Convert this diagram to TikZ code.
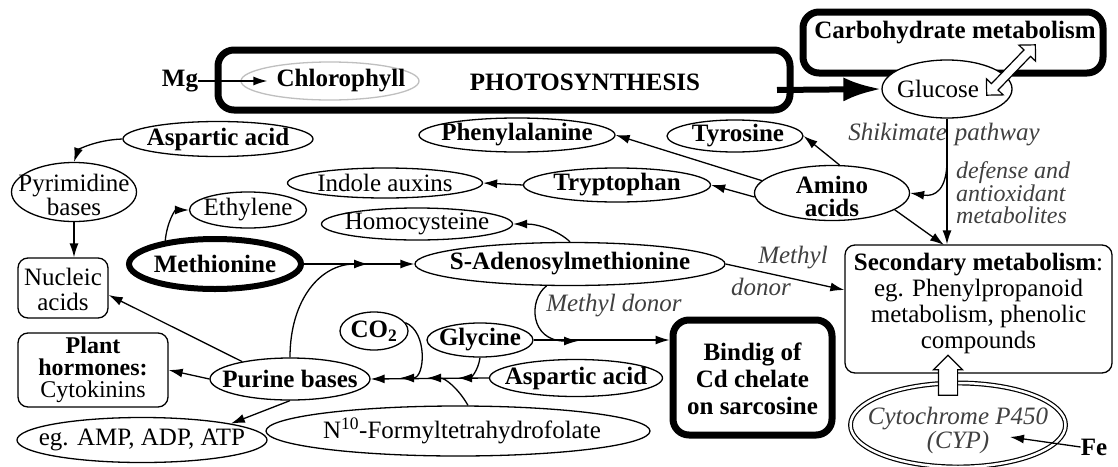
\documentclass[tikz,border=0pt]{standalone}
\usepackage{fontspec}
\setmainfont{Liberation Serif}
\usetikzlibrary{shapes.geometric,shapes.arrows,arrows.meta}
\tikzset{
 T/.style={font=\fontsize{25}{25}\selectfont, inner sep=0pt, align=center},
 TB/.style={T, font=\fontsize{25}{25}\selectfont\bfseries},
 TI/.style={T, font=\fontsize{25}{25}\selectfont\itshape, text=black!75},
 ell/.style={ellipse, draw, fill=white, line width=1.3pt, inner sep=0pt},
 rbox/.style={draw, fill=white, rounded corners=10pt, line width=1.3pt, inner sep=0pt},
 hbox/.style={draw, fill=white, rounded corners=16pt, line width=7pt, inner sep=0pt},
 arr/.style={-{Latex[length=14pt,width=9pt]}, line width=1.3pt},
}
\begin{document}
\begin{tikzpicture}[x=1pt,y=-1pt]
\useasboundingbox (0,0) rectangle (1118,466);
% big boxes
\node[hbox, minimum width=572pt, minimum height=60pt] (ps) at (504,80) {};
\node[TB] (ps-t) at (585,82) {PHOTOSYNTHESIS};
\node[hbox, minimum width=300pt, minimum height=61pt] (carb) at (953,42.5) {};
\node[TB] (carb-t) at (955,33) {Carbohydrate metabolism};
\node[hbox, minimum width=159pt, minimum height=115pt] (bind) at (752.5,377.5) {};
\node[TB, font=\fontsize{25}{27}\selectfont\bfseries] (bind-t) at (752.5,379) {Bindig of\\Cd chelate\\on sarcosine};
\node[rbox, minimum width=267pt, minimum height=128pt] (sec) at (978.5,309) {};
\node[T, font=\fontsize{25}{26}\selectfont] (sec-t) at (978.5,303) {\textbf{Secondary metabolism}:\\eg. Phenylpropanoid\\metabolism, phenolic\\compounds};
\node[rbox, minimum width=90pt, minimum height=60pt] (nuc) at (63,288) {};
\node[T] (nuc-t) at (63,289) {Nucleic\\acids};
\node[rbox, minimum width=150pt, minimum height=74pt] (ph) at (93,370) {};
\node[T, font=\fontsize{24}{22}\selectfont] (ph-t) at (93,370) {\textbf{Plant}\\\textbf{hormones:}\\Cytokinins};
% ellipses
\node[ell, draw=black!25, minimum width=178pt, minimum height=38pt] (chl) at (330,81) {};
\node[TB] (chl-t) at (341,81) {Chlorophyll};
\node[TB] (mg) at (180,81) {Mg};
\node[ell, minimum width=130pt, minimum height=58pt] (glu) at (947,89) {};
\node[T] (glu-t) at (938,89) {Glucose};
\node[double arrow, draw, fill=white, line width=1.2pt, minimum height=70pt, minimum width=22pt, inner sep=4pt, double arrow head extend=7pt, rotate=46] (dbl) at (1011,70) {};
\node[ell, minimum width=136pt, minimum height=32pt] (tyr) at (735,136) {};
\node[TB] (tyr-t) at (738,136) {Tyrosine};
\node[ell, minimum width=196pt, minimum height=34pt] (phe) at (517,135) {};
\node[TB] (phe-t) at (517,135) {Phenylalanine};
\node[ell, minimum width=190pt, minimum height=35pt] (asp1) at (218,139) {};
\node[TB] (asp1-t) at (218,139) {Aspartic acid};
\node[ell, minimum width=125pt, minimum height=59pt] (pyr) at (74,192) {};
\node[T, font=\fontsize{25}{22}\selectfont] (pyr-t) at (74,195) {Pyrimidine\\bases};
\node[ell, minimum width=195pt, minimum height=30pt] (ind) at (385,183) {};
\node[T] (ind-t) at (385,183) {Indole auxins};
\node[ell, minimum width=187pt, minimum height=34pt] (try) at (617,185) {};
\node[TB] (try-t) at (617,185) {Tryptophan};
\node[ell, minimum width=155pt, minimum height=55pt] (ami) at (832,193) {};
\node[TB, font=\fontsize{25}{23}\selectfont\bfseries] (ami-t) at (832,196) {Amino\\acids};
\node[ell, minimum width=117pt, minimum height=36pt] (eth) at (248,210) {};
\node[T] (eth-t) at (248,210) {Ethylene};
\node[ell, minimum width=191pt, minimum height=32pt] (hom) at (417,224) {};
\node[T] (hom-t) at (417,224) {Homocysteine};
\node[ell, line width=6pt, minimum width=172pt, minimum height=50pt] (met) at (215,264) {};
\node[TB] (met-t) at (215,264) {Methionine};
\node[ell, minimum width=310pt, minimum height=43pt] (sam) at (570,264) {};
\node[TB] (sam-t) at (570,264) {S-Adenosylmethionine};
\node[ell, minimum width=68pt, minimum height=38pt] (co2) at (374,331) {};
\node[TB] (co2-t) at (374,331) {CO\textsubscript{2}};
\node[ell, minimum width=106pt, minimum height=34pt] (gly) at (480,340) {};
\node[TB] (gly-t) at (480,340) {Glycine};
\node[ell, minimum width=160pt, minimum height=42pt] (pur) at (290,379) {};
\node[TB] (pur-t) at (290,379) {Purine bases};
\node[ell, minimum width=173pt, minimum height=37pt] (asp2) at (576,378) {};
\node[TB] (asp2-t) at (576,378) {Aspartic acid};
\node[ell, minimum width=250pt, minimum height=45pt] (amp) at (142,440) {};
\node[T] (amp-t) at (142,440) {eg. AMP, ADP, ATP};
\node[ell, minimum width=384pt, minimum height=50pt] (n10) at (458,431) {};
\node[T] (n10-t) at (462,431) {N\textsuperscript{10}-Formyltetrahydrofolate};
\node[ell, double, double distance=2.5pt, line width=1.2pt, minimum width=215pt, minimum height=84pt] (cyp) at (958,425) {};
\node[TI, font=\fontsize{25}{24}\selectfont\itshape] (cyp-t) at (958,430) {Cytochrome P450\\(CYP)};
\node[TB] (fe) at (1094,447) {Fe};
\node[single arrow, draw, fill=white, line width=1.2pt, minimum height=40pt, minimum width=28pt, inner sep=9pt, single arrow head extend=5pt, rotate=90] (up) at (948,380) {};
% labels
\node[TI] (shik) at (944,135) {Shikimate\hspace{8pt}pathway};
\node[TI, align=left, anchor=west, font=\fontsize{24}{22.5}\selectfont\itshape] (def) at (956,193) {defense and\\antioxidant\\metabolites};
\node[TI] (md1) at (793,258) {Methyl};
\node[TI] (md2) at (761,287) {donor};
\node[TI] (md3) at (614,306) {Methyl donor};
% coordinates
\coordinate (psout) at (777,90);
\coordinate (shk) at (947,160);
\coordinate (secin) at (944,245);
\coordinate (mj) at (368,264);
\coordinate (jc) at (400,378);
\coordinate (jn) at (427,378);
\coordinate (jg) at (458,378);
\coordinate (jm) at (578,341);
\coordinate (cypin) at (1010,437);
% connectors
\draw[arr] (mg.east) -- ([xshift=27pt]chl.west);
\draw[line width=6pt, -{Latex[length=38pt,width=24pt]}] (psout) -- (glu.west);
\draw[arr] (glu.south) -- (glu.south |- sec.north);
\draw[arr] (shk) .. controls (947,190) and (935,197) .. (ami.east);
\draw[arr] (ami.-15) -- (secin);
\draw[arr] (ami.75) -- (tyr.east);
\draw[arr] (ami.170) -- (phe.east);
\draw[arr] (ami.183) -- (try.east);
\draw[arr] (try.west) -- (ind.east);
\draw[arr] (sam.north) .. controls (560,232) and (540,224) .. (hom.east);
\draw[arr] (met.east) -- (sam.west);
\draw[arr] (pur.north) .. controls (290,300) and (320,264) .. (mj);
\draw[arr] (met.155) .. controls (167,222) and (175,210) .. (eth.west);
\draw[arr] (asp1.west) .. controls (95,140) and (78,150) .. (pyr.north);
\draw[arr] (pyr.south) -- (pyr.south |- nuc.north);
\draw[arr] (pur.160) -- ([yshift=-7pt]nuc.east);
\draw[arr] (pur.west) -- (ph.east);
\draw[arr] (pur.south) -- (amp.north east);
\draw[arr] (asp2.west) -- (pur.east);
\draw[arr] (co2.15) .. controls (428,332) and (425,378) .. (jc);
\draw[arr] ([xshift=10pt]n10.north) .. controls (458,388) and (445,378) .. (jn);
\draw[arr] (gly.south) .. controls (478,372) and (470,378) .. (jg);
\draw[arr] (gly.east) -- (gly.east -| bind.west);
\draw[arr] (sam.223) .. controls (528,300) and (530,341) .. (jm);
\draw[arr] (sam.east) -- ([yshift=19pt]sec.west);
\draw[arr] (fe.west) -- (cypin);
\end{tikzpicture}
\end{document}
